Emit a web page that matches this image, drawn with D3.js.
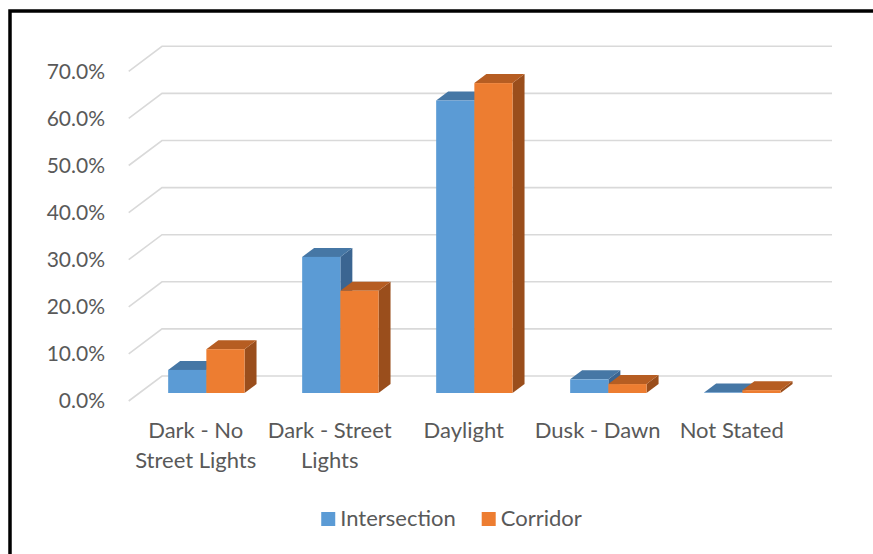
<!DOCTYPE html>
<html>
<head>
<meta charset="utf-8">
<script src="https://cdn.jsdelivr.net/npm/d3@7"></script>
<style>
  html, body { margin: 0; padding: 0; background: #fff; }
  svg { display: block; }
  text { font-family: Lato, "Open Sans", sans-serif; fill: #595959; }
</style>
</head>
<body>
<svg id="chart" width="873" height="554"></svg>
<script>
// ---- data ----
const categories = ["Dark - No Street Lights", "Dark - Street Lights", "Daylight", "Dusk - Dawn", "Not Stated"];
const seriesNames = ["Intersection", "Corridor"];
const intersection = [0.049, 0.289, 0.621, 0.029, 0.001];
const corridor = [0.093, 0.217, 0.658, 0.019, 0.006];
const tickValues = [0, 0.1, 0.2, 0.3, 0.4, 0.5, 0.6, 0.7];

// ---- styles ----
const colors = {
  Intersection: { front: "#5B9BD5", top: "#4677A5", side: "#3B6591" },
  Corridor: { front: "#ED7D31", top: "#B65D22", side: "#9A4E1C" }
};

const svg = d3.select("#chart");
const FONT_TICK = 21;
const FONT = 22;

// frame (top and left edges visible)
svg.append("rect")
  .attr("x", 10).attr("y", 11).attr("width", 900).attr("height", 600)
  .attr("fill", "none").attr("stroke", "#000").attr("stroke-width", 3.5);

// back plane geometry
const backX0 = 162, backX1 = 832;
const DX = -33.3, DY = 25;       // full floor depth offset (back -> front)
const tBack = 0.32, tFront = 0.68; // bar depth span

const y = d3.scaleLinear().domain([0, 0.7]).range([376, 46.3]);
const x = d3.scaleBand().domain(categories).range([backX0, backX1])
  .paddingInner(0.43).paddingOuter(0.215);
const xs = d3.scaleBand().domain(seriesNames).range([0, x.bandwidth()]);

const proj = (px, v, t) => [px + DX * t, y(v) + DY * t];

// gridlines
const grid = svg.append("g").attr("stroke", "#D9D9D9").attr("stroke-width", 1.6).attr("fill", "none");
tickValues.forEach(v => {
  grid.append("path").attr("d", d3.line()([proj(backX0, v, 1), [backX0, y(v)], [backX1, y(v)]]));
});

// value axis (front plane)
const yFront = d3.scaleLinear().domain(y.domain()).range(y.range().map(r => r + DY));
const yAxis = svg.append("g").attr("transform", "translate(113,0)")
  .call(d3.axisLeft(yFront).tickValues(tickValues).tickFormat(d3.format(".1%")).tickSize(0).tickPadding(8));
yAxis.select(".domain").remove();
yAxis.selectAll("text").attr("font-size", FONT_TICK).attr("fill", "#595959").attr("font-family", "Lato, sans-serif");

// bars
const valuesBySeries = { Intersection: intersection, Corridor: corridor };
const bars = svg.append("g");
categories.forEach((c, ci) => {
  seriesNames.forEach(s => {
    const v = valuesBySeries[s][ci];
    const xl = x(c) + xs(s), xr = xl + xs.bandwidth();
    const col = colors[s];
    const g = bars.append("g");
    // side
    g.append("path").attr("fill", col.side)
      .attr("d", d3.line()([proj(xr, v, tFront), proj(xr, v, tBack), proj(xr, 0, tBack), proj(xr, 0, tFront)]) + "Z");
    // top
    g.append("path").attr("fill", col.top)
      .attr("d", d3.line()([proj(xl, v, tFront), proj(xr, v, tFront), proj(xr, v, tBack), proj(xl, v, tBack)]) + "Z");
    // front
    const p0 = proj(xl, v, tFront), p1 = proj(xr, 0, tFront);
    g.append("rect").attr("fill", col.front)
      .attr("x", p0[0]).attr("y", p0[1]).attr("width", p1[0] - p0[0]).attr("height", Math.max(0, p1[1] - p0[1]));
  });
});

// category axis (front plane)
const xFront = x.copy().range([backX0 + DX, backX1 + DX]);
const xAxis = svg.append("g").attr("transform", "translate(0,438)")
  .call(d3.axisBottom(xFront).tickSize(0).tickPadding(0));
xAxis.select(".domain").remove();
xAxis.selectAll("text")
  .attr("font-size", FONT).attr("fill", "#595959").attr("font-family", "Lato, sans-serif")
  .attr("y", 0).attr("dy", null)
  .each(function (d) {
    const t = d3.select(this);
    const words = d.split(" ");
    const maxW = x.step() - 2;
    t.text(null);
    let lines = [], cur = [];
    words.forEach(w => {
      const test = cur.concat([w]).join(" ");
      t.text(test);
      if (this.getComputedTextLength() > maxW && cur.length) {
        lines.push(cur.join(" "));
        cur = [w];
      } else cur.push(w);
    });
    lines.push(cur.join(" "));
    t.text(null);
    lines.forEach((ln, i) => t.append("tspan").attr("x", 0).attr("y", i * 30).text(ln));
  });

// legend
const legend = svg.append("g");
const items = seriesNames.map(s => {
  const g = legend.append("g");
  g.append("rect").attr("width", 14).attr("height", 14).attr("y", 512).attr("fill", colors[s].front);
  const tx = g.append("text").attr("x", 19).attr("y", 526).attr("font-size", FONT).text(s);
  return { g, w: 19 + tx.node().getComputedTextLength() };
});
const gap = 26;
const total = d3.sum(items, d => d.w) + gap * (items.length - 1);
let lx = 451.5 - total / 2;
items.forEach(it => { it.g.attr("transform", `translate(${lx},0)`); lx += it.w + gap; });
</script>
</body>
</html>
